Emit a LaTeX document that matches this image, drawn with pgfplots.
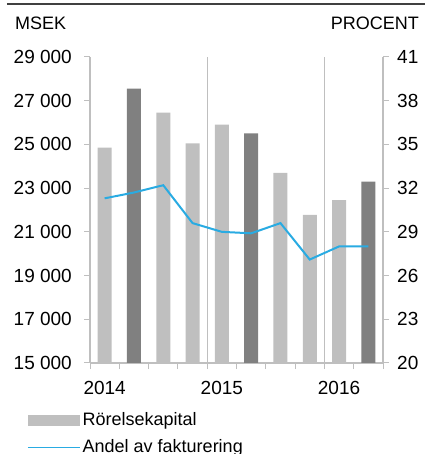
\documentclass[border=0pt]{standalone}
\usepackage{fontspec}
\setmainfont{Liberation Sans}
\usepackage{pgfplots}
\pgfplotsset{compat=1.18}
\definecolor{barlight}{HTML}{BFBFBF}
\definecolor{bardark}{HTML}{808080}
\definecolor{lineblue}{HTML}{29ABE2}
\definecolor{axisgray}{HTML}{BFBFBF}

% axis box: 293 x 306 bp, its lower left corner at (0,0)
\pgfplotsset{
  base/.style={
    scale only axis, width=293bp, height=306bp,
    xmin=-0.5, xmax=9.5,
    scaled y ticks=false,
    axis line style={axisgray, line width=1.2bp},
    tick align=outside,
    tick style={axisgray, line width=1bp},
    major tick length=6bp, minor tick length=6bp,
    tick label style={font=\fontsize{19bp}{22bp}\selectfont, black},
    /pgf/number format/assume math mode=true,
  },
}

\begin{document}
\fontsize{18bp}{21bp}\selectfont
\begin{tikzpicture}

\begin{axis}[base,
  ymin=15000, ymax=29000,
  axis x line*=bottom, axis y line*=left,
  ytick={15000,17000,...,29000},
  yticklabels={15 000,17 000,19 000,21 000,23 000,25 000,27 000,29 000},
  yticklabel style={xshift=-6bp},
  xtick={0,4,8}, xticklabels={2014,2015,2016},
  xticklabel style={yshift=-6bp},
  major x tick style={draw=none},
  minor xtick={-0.5,0.5,...,9.5},
  extra x ticks={3.5,7.5}, extra x tick labels={},
  extra x tick style={grid=major, major grid style={axisgray, line width=1.2bp}},
  legend style={at={(-0.215,-0.155)}, anchor=north west, draw=none, fill=none,
    font=\fontsize{18bp}{21bp}\selectfont, inner sep=0pt, row sep=7.5bp},
  legend cell align=left,
]
\addplot[ybar, bar width=14bp, bar shift=0pt, fill=barlight, draw=none,
  legend image code/.code={\fill[barlight] (0bp,-5.5bp) rectangle (52bp,5.5bp);}]
  coordinates {(0,24850) (2,26450) (3,25050) (4,25900) (6,23700) (7,21780) (8,22450)};
\addlegendentry{Rörelsekapital}
\addplot[ybar, bar width=14bp, bar shift=0pt, fill=bardark, draw=none, forget plot]
  coordinates {(1,27550) (5,25500) (9,23300)};
\addlegendimage{lineblue, line width=1.5bp,
  legend image code/.code={\draw[lineblue, line width=1.5bp] (0bp,0bp) -- (52bp,0bp);}}
\addlegendentry{Andel av fakturering}
\end{axis}

\begin{axis}[base,
  ymin=20, ymax=41,
  axis x line=none, axis y line*=right,
  ytick={20,23,...,41},
  yticklabel style={xshift=2bp},
]
\addplot[lineblue, line width=2bp, mark=none]
  coordinates {(0,31.3) (1,31.7) (2,32.2) (3,29.6) (4,29.0) (5,28.9) (6,29.6) (7,27.1) (8,28.0) (9,28.0)};
\end{axis}

\begin{scope}[x=1bp, y=1bp, shift={(-90bp,-91bp)}]
\draw[line width=2bp, black!75] (7,450) -- (425,450);
\node[anchor=west, inner sep=0pt] at (15,431) {MSEK};
\node[anchor=east, inner sep=0pt] at (419,431) {PROCENT};
\pgfresetboundingbox
\useasboundingbox (0,0) rectangle (425,454);
\end{scope}
\end{tikzpicture}
\end{document}
